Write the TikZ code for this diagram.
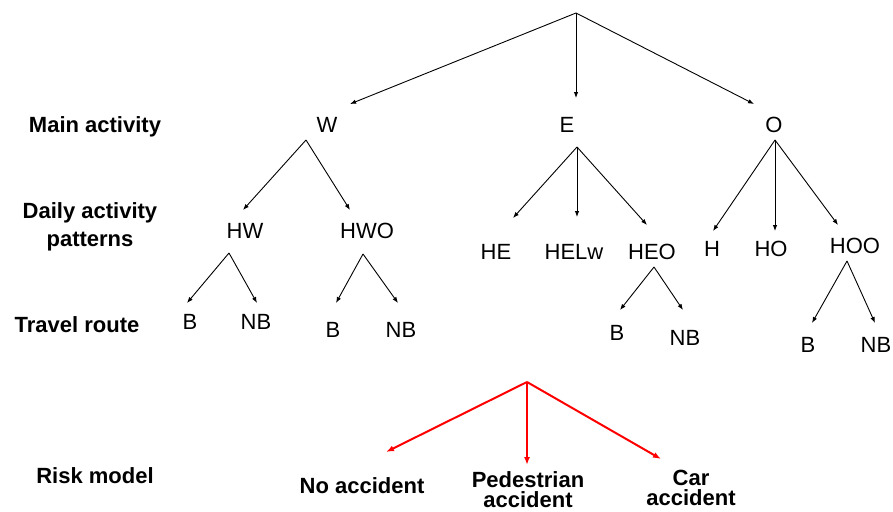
\documentclass[tikz,border=0pt]{standalone}
\usepackage{fontspec}
\setmainfont{Liberation Sans}
\usetikzlibrary{arrows.meta}
\begin{document}
\begin{tikzpicture}[x=1pt,y=-1pt,
  lbl/.style={anchor=base,inner sep=0pt,font=\fontsize{22}{26}\selectfont},
  cat/.style={anchor=base,inner sep=0pt,font=\fontsize{22}{26}\selectfont\bfseries,align=center},
  catwide/.style={cat,font=\fontsize{22}{28}\selectfont\bfseries},
  cattight/.style={cat,font=\fontsize{22}{20}\selectfont\bfseries},
  arr/.style={-{Latex[length=6pt,width=4.5pt]},line width=0.9pt},
  redarr/.style={-{Latex[length=8pt,width=6pt]},line width=2pt,draw=red}]
\useasboundingbox (0,0) rectangle (893,511);
% category labels
\node[cat] (main) at (95,132) {Main activity};
\node[catwide] (daily) at (90,246) {Daily activity\\patterns};
\node[cat] (travel) at (77,332) {Travel route};
\node[cat] (risk) at (95,483) {Risk model};
% tree labels
\node[lbl] (W) at (327,132) {W};
\node[lbl] (E) at (567,132) {E};
\node[lbl] (O) at (774,132) {O};
\node[lbl] (HW) at (245,238) {HW};
\node[lbl] (HWO) at (367,238) {HWO};
\node[lbl] (B1) at (190,329) {B};
\node[lbl] (NB1) at (256,329) {NB};
\node[lbl] (B2) at (333,337) {B};
\node[lbl] (NB2) at (401,337) {NB};
\node[lbl] (HE) at (496,259) {HE};
\node[lbl] (HELw) at (574,259) {HELw};
\node[lbl] (HEO) at (652,259) {HEO};
\node[lbl] (B3) at (617,340) {B};
\node[lbl] (NB3) at (685,345) {NB};
\node[lbl] (H) at (712,256) {H};
\node[lbl] (HO) at (771,256) {HO};
\node[lbl] (HOO) at (855,253) {HOO};
\node[lbl] (B4) at (808,352) {B};
\node[lbl] (NB4) at (876,352) {NB};
\node[cat] (noacc) at (362,493) {No accident};
\node[cattight] (pedacc) at (528,507) {Pedestrian\\accident};
\node[cattight] (caracc) at (691,505) {Car\\accident};
% apexes
\coordinate (rootA) at (576,13);
\coordinate (WA) at (306,140);
\coordinate (HWA) at (229,253);
\coordinate (HWOA) at (363,254);
\coordinate (EA) at (577,147);
\coordinate (HEOA) at (654,267);
\coordinate (OA) at (775,140);
\coordinate (HOOA) at (847,261);
\coordinate (riskA) at (527,382);
% arrow tips
\coordinate (tW) at (350,104);
\coordinate (tE) at (576,98);
\coordinate (tO) at (754,104);
\coordinate (tHW) at (243,210);
\coordinate (tHWO) at (350,210);
\coordinate (tB1) at (187,303);
\coordinate (tNB1) at (257,303);
\coordinate (tB2) at (336,303);
\coordinate (tNB2) at (398,303);
\coordinate (tHE) at (513,218);
\coordinate (tHELw) at (577,217);
\coordinate (tHEO) at (647,225);
\coordinate (tB3) at (620,310);
\coordinate (tNB3) at (683,310);
\coordinate (tH) at (713,231);
\coordinate (tHO) at (775,231);
\coordinate (tHOO) at (838,225);
\coordinate (tB4) at (812,323);
\coordinate (tNB4) at (875,323);
\coordinate (tno) at (386,452);
\coordinate (tped) at (527,465);
\coordinate (tcar) at (661,459);
% connectors
\draw[arr] (rootA) -- (tW);
\draw[arr] (rootA) -- (tE);
\draw[arr] (rootA) -- (tO);
\draw[arr] (WA) -- (tHW);
\draw[arr] (WA) -- (tHWO);
\draw[arr] (HWA) -- (tB1);
\draw[arr] (HWA) -- (tNB1);
\draw[arr] (HWOA) -- (tB2);
\draw[arr] (HWOA) -- (tNB2);
\draw[arr] (EA) -- (tHE);
\draw[arr] (EA) -- (tHELw);
\draw[arr] (EA) -- (tHEO);
\draw[arr] (HEOA) -- (tB3);
\draw[arr] (HEOA) -- (tNB3);
\draw[arr] (OA) -- (tH);
\draw[arr] (OA) -- (tHO);
\draw[arr] (OA) -- (tHOO);
\draw[arr] (HOOA) -- (tB4);
\draw[arr] (HOOA) -- (tNB4);
\draw[redarr] (riskA) -- (tno);
\draw[redarr] (riskA) -- (tped);
\draw[redarr] (riskA) -- (tcar);
\end{tikzpicture}
\end{document}
